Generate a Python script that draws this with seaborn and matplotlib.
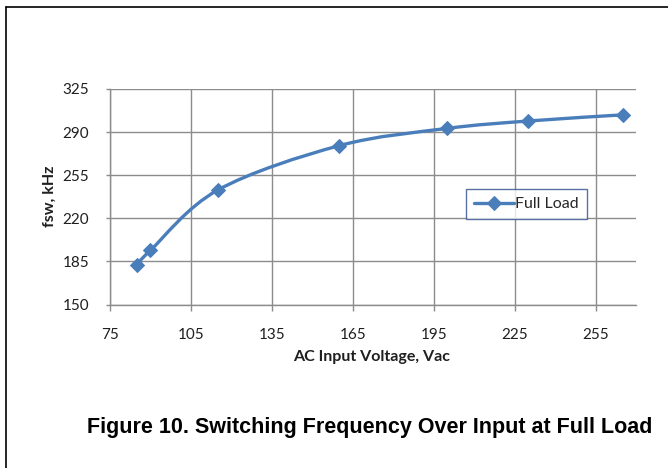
import numpy as np
import matplotlib
matplotlib.use("Agg")
import matplotlib.pyplot as plt
from matplotlib.path import Path
from matplotlib.patches import PathPatch
from matplotlib.lines import Line2D
import pandas as pd
import seaborn as sns

# Measured switching frequency at full load
input_voltage = [85, 90, 115, 160, 200, 230, 265]
fsw_khz = [182, 194, 243, 279, 293, 299, 304]
series_name = "Full Load"

x_ticks = [75, 105, 135, 165, 195, 225, 255]
y_ticks = [150, 185, 220, 255, 290, 325]

df = pd.DataFrame({"Vac": input_voltage, "fsw": fsw_khz, "series": series_name})

sns.set_style("white")
plt.rcParams["font.family"] = ["Lato", "DejaVu Sans"]

W, H = 668, 468
fig = plt.figure(figsize=(W / 100, H / 100), dpi=100)
ax = fig.add_axes([110 / W, 1 - 304.5 / H, (636 - 110) / W, (304.5 - 89) / H])

blue = "#4A7EBB"
grid_c = "#8C8C8C"
text_c = "#1F1F1F"

# Markers (and legend entry) through seaborn, straight connecting line hidden
sns.lineplot(data=df, x="Vac", y="fsw", hue="series", palette=[blue],
             marker="D", markersize=7, markeredgecolor=blue, linewidth=2.4,
             ax=ax, zorder=4)
for ln in ax.get_lines():
    ln.set_linestyle("none")


def smooth_path(xs, ys):
    """Cardinal-spline style Bezier through the points."""
    pts = np.column_stack([xs, ys]).astype(float)
    n = len(pts)
    verts = [pts[0]]
    codes = [Path.MOVETO]
    for i in range(n - 1):
        p0 = pts[i - 1] if i > 0 else pts[i]
        p1 = pts[i]
        p2 = pts[i + 1]
        p3 = pts[i + 2] if i + 2 < n else pts[i + 1]
        c1 = p1 + (p2 - p0) / 6.0
        c2 = p2 - (p3 - p1) / 6.0
        verts += [c1, c2, p2]
        codes += [Path.CURVE4] * 3
    return Path(verts, codes)


patch = PathPatch(smooth_path(input_voltage, fsw_khz), facecolor="none",
                  edgecolor=blue, linewidth=2.4, zorder=3, capstyle="round",
                  joinstyle="round")
ax.add_patch(patch)

ax.set_xlim(75, 270)
ax.set_ylim(150, 325)
ax.set_xticks(x_ticks)
ax.set_yticks(y_ticks)

ax.grid(True, color=grid_c, linewidth=1.0)
ax.set_axisbelow(True)
for side in ["top", "right"]:
    ax.spines[side].set_visible(False)
for side in ["left", "bottom"]:
    ax.spines[side].set_color(grid_c)
    ax.spines[side].set_linewidth(1.0)

ax.tick_params(axis="x", direction="out", length=4, width=1, color=grid_c,
               pad=13, labelsize=11, labelcolor=text_c)
ax.tick_params(axis="y", direction="out", length=3, width=1, color=grid_c,
               pad=12, labelsize=11, labelcolor=text_c)
ax.tick_params(bottom=True, left=True)

ax.set_xlabel("AC Input Voltage, Vac", fontsize=11.5, fontweight="bold",
              color=text_c)
ax.set_ylabel("fsw, kHz", fontsize=11.5, fontweight="bold", color=text_c)
ax.xaxis.set_label_coords((372 - 110) / (636 - 110), -(350.5 - 304.5) / (304.5 - 89))
ax.yaxis.set_label_coords(-(110 - 57) / (636 - 110), (304.5 - 196) / (304.5 - 89))

leg = ax.legend(loc="center", bbox_to_anchor=((526.5 - 110) / (636 - 110),
                                               (304.5 - 204) / (304.5 - 89)),
                frameon=True, fancybox=False, fontsize=11.5, handlelength=2.5,
                handletextpad=0.05, borderpad=0.5, borderaxespad=0)
leg.get_frame().set_edgecolor("#2F4F8F")
leg.get_frame().set_linewidth(1.0)
for h in leg.get_lines():
    h.set_linestyle("-")
    h.set_linewidth(2.4)
    h.set_color(blue)

fig.text(370 / W, 1 - 427 / H,
         "Figure 10. Switching Frequency Over Input at Full Load",
         ha="center", va="center", fontsize=15.5, fontweight="bold",
         family=["Liberation Sans", "DejaVu Sans"], color="black")

# Page frame lines at the left and top edges
fig.add_artist(Line2D([5.5 / W, 5.5 / W], [0, 1 - 6.5 / H], color="black",
                      linewidth=1.2, transform=fig.transFigure))
fig.add_artist(Line2D([5.5 / W, 1], [1 - 6.5 / H, 1 - 6.5 / H], color="black",
                      linewidth=1.2, transform=fig.transFigure))

fig.savefig("out.png", dpi=100)
